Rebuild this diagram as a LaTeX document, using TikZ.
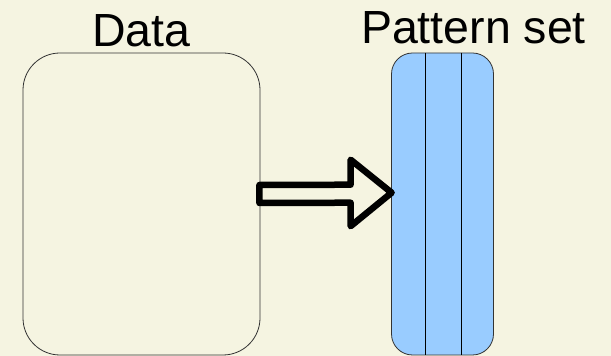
\documentclass[tikz,border=0pt]{standalone}
\usepackage{fontspec}
\setmainfont{Liberation Sans}
\usetikzlibrary{calc}
\definecolor{paper}{HTML}{F5F4E1}
\definecolor{patblue}{HTML}{99CCFF}
\definecolor{edge}{HTML}{333333}
\tikzset{
  box/.style={draw=edge, line width=0.8pt, inner sep=0pt},
  title/.style={anchor=base, inner sep=0pt, font=\fontsize{46.5}{56}\selectfont},
  blockarrow/.style={draw=black, line width=6.5pt, line join=round, line cap=round},
  divider/.style={draw=black, line width=0.8pt}
}
\begin{document}
\begin{tikzpicture}[x=1pt,y=1pt]
  \fill[paper] (0,0) rectangle (611,356);
  \useasboundingbox (0,0) rectangle (611,356);

  % data container
  \node[box, rounded corners=37pt, minimum width=237pt, minimum height=302pt]
    (data) at (141.5,152) {};
  % pattern set container with two dividers
  \node[box, fill=patblue, rounded corners=21pt, minimum width=102pt, minimum height=302pt]
    (pat) at (442.5,152) {};
  \draw[divider] ($(pat.north west)+(34.5,0)$) coordinate (d1t) -- (d1t |- pat.south);
  \draw[divider] ($(pat.north west)+(70.5,0)$) coordinate (d2t) -- (d2t |- pat.south);

  % titles
  \node[title] (datatitle) at (141.5,309.3) {Data};
  \node[title] (pattitle) at (473.5,312.7) {Pattern set};

  % hollow block arrow from data to pattern set
  \coordinate (a0) at ($(data.east)+(-1,10)$);
  \coordinate (tip) at ($(pat.west)+(0.5,11.3)$);
  \draw[blockarrow]
    ($(a0)+(0,9)$) -- ($(tip)+(-41,8)$) -- ($(tip)+(-41,33)$) -- (tip)
    -- ($(tip)+(-41,-33.5)$) -- ($(tip)+(-41,-10)$) -- ($(a0)+(0,-9)$) -- cycle;
\end{tikzpicture}
\end{document}
